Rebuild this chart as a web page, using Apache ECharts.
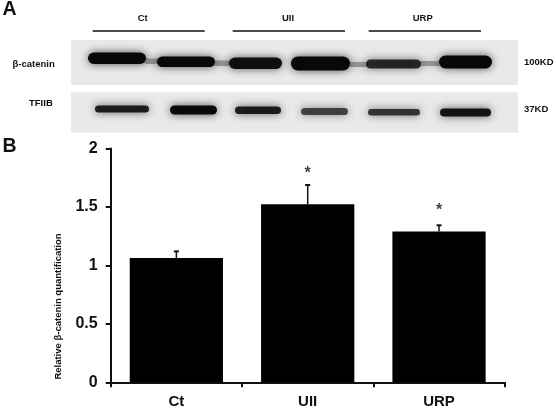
<!DOCTYPE html>
<html>
<head>
<meta charset="utf-8">
<title>β-catenin</title>
<style>
	html, body { margin: 0; padding: 0; background: #fff; }
	#main { width: 556px; height: 410px; }
</style>
<script src="https://cdn.jsdelivr.net/npm/echarts@6/dist/echarts.min.js"></script>
</head>
<body>
<div id="main"></div>
<script>
//柱状图数据
var categories = ['Ct', 'UII', 'URP'];
var meanValues = [1.063, 1.523, 1.29];
var errTops = [1.12, 1.688, 1.343];
var starValues = [null, 1.785, 1.47];

//blot panels: x0, x1, y0, y1
var blotPanels = [[71, 518, 40, 85], [71, 518, 92.3, 132.7]];
//bands: x0, x1, y0, y1, darkness
var betaBands = [
	[88, 146, 52.5, 64, 1], [157, 215, 56.5, 67, 1], [229, 282, 57.5, 69, 0.95],
	[291, 350, 56.5, 70.5, 1], [366, 421, 59.5, 68.5, 0.8], [439, 492, 55.5, 68.5, 1]
];
var tfiibBands = [
	[95, 149, 105.5, 112.5, 0.88], [170, 217, 105.5, 114.5, 1], [235, 281, 106.5, 114, 0.88],
	[301, 348, 108, 115, 0.68], [368, 420, 109, 115.5, 0.75], [440, 491, 108.5, 116.5, 0.92]
];
//faint smear between neighbouring bands
var smears = [
	[144, 160, 58.5, 64, 0.3], [213, 231, 60.5, 66, 0.3], [348, 368, 62, 67, 0.3], [419, 441, 61, 66, 0.3]
];
//group lines over the blot: x0, x1, y
var groupLines = [[92.7, 204.7, 31], [232.7, 345, 31], [368.7, 481, 31]];

var myChart = echarts.init(document.getElementById('main'));

function renderErr(params, api) {
	var top = api.coord([api.value(0), api.value(1)]);
	var base = api.coord([api.value(0), api.value(2)]);
	return {
		type: 'group',
		children: [{
			type: 'line',
			shape: { x1: top[0], y1: base[1], x2: top[0], y2: top[1] },
			style: { stroke: '#111', lineWidth: 1.5 }
		}, {
			type: 'line',
			shape: { x1: top[0] - 2.5, y1: top[1], x2: top[0] + 2.5, y2: top[1] },
			style: { stroke: '#111', lineWidth: 2 }
		}]
	};
}

function renderPanel(params, api) {
	var a = api.coord([api.value(0), api.value(2)]);
	var b = api.coord([api.value(1), api.value(3)]);
	return {
		type: 'rect',
		shape: { x: a[0], y: a[1], width: b[0] - a[0], height: b[1] - a[1] },
		style: { fill: '#e9e9e9' }
	};
}

function renderBand(params, api) {
	var a = api.coord([api.value(0), api.value(2)]);
	var b = api.coord([api.value(1), api.value(3)]);
	var h = b[1] - a[1];
	var c = 'rgba(8,8,8,' + api.value(4) + ')';
	return {
		type: 'rect',
		shape: { x: a[0], y: a[1], width: b[0] - a[0], height: h, r: h / 2 },
		style: { fill: c, shadowBlur: 8, shadowColor: 'rgba(8,8,8,0.7)' }
	};
}

function renderRule(params, api) {
	var a = api.coord([api.value(0), api.value(2)]);
	var b = api.coord([api.value(1), api.value(2)]);
	return {
		type: 'line',
		shape: { x1: a[0], y1: a[1], x2: b[0], y2: b[1] },
		style: { stroke: '#111', lineWidth: 1.3 }
	};
}

var fontName = '"Liberation Sans", Arial, sans-serif';

function label(x, y, text, size, align, rotation) {
	return {
		type: 'text',
		x: x,
		y: y,
		rotation: rotation || 0,
		style: {
			text: text,
			fill: '#111',
			font: 'bold ' + size + 'px ' + fontName,
			textAlign: align || 'left',
			textVerticalAlign: 'middle'
		}
	};
}

var option = {
	animation: false,
	backgroundColor: '#fff',
	textStyle: { fontFamily: fontName },
	grid: [
		{ left: 110.7, top: 148.5, width: 394, height: 233.8 },
		{ left: 0, top: 0, width: 556, height: 150 }
	],
	xAxis: [{
		type: 'category',
		data: categories,
		axisLine: { lineStyle: { color: '#111', width: 2 } },
		axisTick: { show: true, length: 5, lineStyle: { color: '#111', width: 2 } },
		axisLabel: { color: '#111', fontSize: 15, fontWeight: 'bold', margin: 12 }
	}, {
		type: 'value', gridIndex: 1, min: 0, max: 556, show: false
	}],
	yAxis: [{
		type: 'value',
		min: 0,
		max: 2,
		interval: 0.5,
		splitLine: { show: false },
		axisLine: { show: true, lineStyle: { color: '#111', width: 2 } },
		axisTick: { show: true, length: 5, lineStyle: { color: '#111', width: 2 } },
		axisLabel: { color: '#111', fontSize: 16, fontWeight: 'bold', margin: 13 }
	}, {
		type: 'value', gridIndex: 1, min: 0, max: 150, inverse: true, show: false
	}],
	series: [{
		type: 'bar',
		data: meanValues,
		barWidth: '71%',
		itemStyle: { color: '#000' }
	}, {
		type: 'custom',
		renderItem: renderErr,
		data: categories.map(function(c, i) { return [i, errTops[i], meanValues[i]]; }),
		z: 3
	}, {
		type: 'scatter',
		data: starValues,
		symbolSize: 0,
		label: {
			show: true,
			position: 'inside',
			formatter: '*',
			color: '#111',
			fontSize: 16,
			fontWeight: 'bold'
		}
	}, {
		type: 'custom', xAxisIndex: 1, yAxisIndex: 1, renderItem: renderPanel, data: blotPanels, z: 1
	}, {
		type: 'custom', xAxisIndex: 1, yAxisIndex: 1, renderItem: renderBand,
		data: smears.concat(betaBands, tfiibBands), z: 2
	}, {
		type: 'custom', xAxisIndex: 1, yAxisIndex: 1, renderItem: renderRule, data: groupLines, z: 2
	}],
	graphic: [
		label(2.5, 9.5, 'A', 19.5),
		label(2.5, 146.5, 'B', 19.5),
		label(142.7, 18.5, 'Ct', 9.5, 'center'),
		label(288, 18.5, 'UII', 9.5, 'center'),
		label(422.7, 18.5, 'URP', 9.5, 'center'),
		label(12.5, 64, 'β-catenin', 9.5),
		label(29, 103, 'TFIIB', 9.5),
		label(524, 62, '100KD', 9.5),
		label(524, 109, '37KD', 9.5),
		label(58, 306.5, 'Relative β-catenin quantification', 9.5, 'center', Math.PI / 2)
	]
};

myChart.setOption(option);
</script>
</body>
</html>
